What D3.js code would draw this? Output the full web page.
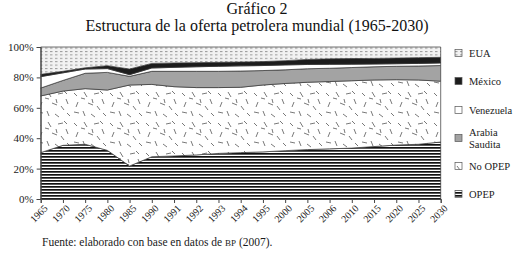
<!DOCTYPE html>
<html>
<head>
<meta charset="utf-8">
<script src="https://cdn.jsdelivr.net/npm/d3@7"></script>
<style>
  body { margin: 0; background: #fff; }
</style>
</head>
<body>
<div id="chart"></div>
<script>
// Years on the category axis
var years = ["1965", "1970", "1975", "1980", "1985", "1990", "1991", "1992", "1993", "1994",
             "1995", "2000", "2005", "2006", "2010", "2015", "2020", "2025", "2030"];

// Share of world supply (%), bottom of the stack first
var opep     = [30.5, 35.3, 36, 32, 21.7, 27.8, 28.3, 29, 30, 30.5, 31, 31.8, 32.5, 33, 33.5, 34.5, 35.5, 36, 37.5];
var noOpep   = [37.3, 35.7, 36.6, 39.7, 53.3, 47.6, 45.6, 44.3, 43.3, 43, 44, 44.2, 44.3, 44.3, 44.3, 43.8, 43, 42.3, 40];
var arabia   = [5.2, 7, 10.1, 11.6, 5.7, 8.6, 10.1, 10.7, 10.7, 10.7, 9.5, 9, 8.9, 8.7, 8.7, 8.7, 8.8, 9.2, 10.3];
var venezuela= [7.5, 5, 2.8, 2.5, 1.1, 2.2, 2.6, 3, 3.3, 3.4, 3.3, 3.2, 2.8, 2.6, 2.2, 1.8, 1.7, 1.7, 1.7];
var mexico   = [1.5, 1, 0.8, 1.9, 3.7, 3, 2.9, 2.7, 2.6, 2.5, 2.6, 2.8, 3.3, 3.6, 3.7, 3.7, 3.7, 3.8, 3.7];
var eua      = [18, 16, 13.7, 12.3, 14.5, 10.8, 10.5, 10.3, 10.1, 9.9, 9.6, 9, 8.2, 7.8, 7.6, 7.5, 7.3, 7, 6.8];

var yTicks = [0, 20, 40, 60, 80, 100];

var keys = ["OPEP", "No OPEP", "Arabia Saudita", "Venezuela", "México", "EUA"];
var series = {"OPEP": opep, "No OPEP": noOpep, "Arabia Saudita": arabia,
              "Venezuela": venezuela, "México": mexico, "EUA": eua};

var rows = years.map(function(y, i) {
  var r = {year: y};
  keys.forEach(function(k) { r[k] = series[k][i]; });
  return r;
});

var W = 515, H = 257;
var plot = {left: 40.7, right: 440.7, top: 47, bottom: 199};
var serif = "'Liberation Serif', 'DejaVu Serif', 'Times New Roman', serif";

var svg = d3.select("#chart").append("svg")
  .attr("width", W)
  .attr("height", H)
  .style("font-family", serif);

// ---- patterns ----
var defs = svg.append("defs");

var pLines = defs.append("pattern")
  .attr("id", "p-opep").attr("patternUnits", "userSpaceOnUse")
  .attr("width", 4).attr("height", 3);
pLines.append("rect").attr("width", 4).attr("height", 3).attr("fill", "#fff");
pLines.append("rect").attr("width", 4).attr("height", 1.7).attr("fill", "#111");

var pDash = defs.append("pattern")
  .attr("id", "p-noopep").attr("patternUnits", "userSpaceOnUse")
  .attr("width", 36).attr("height", 30);
pDash.append("rect").attr("width", 36).attr("height", 30).attr("fill", "#fff");
var segs = [[2,3,5,6],[12,2,15,7],[22,4,27,3],[30,9,32,14],[6,12,4,17],[16,13,21,15],
            [25,16,28,20],[2,22,7,23],[11,21,13,26],[19,24,23,27],[31,23,34,26],[28,1,31,4],
            [9,8,13,9],[20,9,21,13]];
segs.forEach(function(s) {
  pDash.append("line")
    .attr("x1", s[0]).attr("y1", s[1]).attr("x2", s[2]).attr("y2", s[3])
    .attr("stroke", "#555").attr("stroke-width", 0.8);
});

var pDots = defs.append("pattern")
  .attr("id", "p-eua").attr("patternUnits", "userSpaceOnUse")
  .attr("width", 5).attr("height", 3.4);
pDots.append("rect").attr("width", 5).attr("height", 3.4).attr("fill", "#f2f2f2");
pDots.append("rect").attr("width", 2.5).attr("height", 1).attr("fill", "#9a9a9a");

var fills = {
  "OPEP": "url(#p-opep)",
  "No OPEP": "url(#p-noopep)",
  "Arabia Saudita": "#a3a3a3",
  "Venezuela": "#ffffff",
  "México": "#1c1c1c",
  "EUA": "url(#p-eua)"
};

// ---- scales ----
var x = d3.scalePoint().domain(years).range([plot.left, plot.right]);
var y = d3.scaleLinear().domain([0, 100]).range([plot.bottom, plot.top]);

var stacked = d3.stack().keys(keys)(rows);

var area = d3.area()
  .x(function(d) { return x(d.data.year); })
  .y0(function(d) { return y(d[0]); })
  .y1(function(d) { return y(d[1]); });

svg.append("g").selectAll("path")
  .data(stacked)
  .enter().append("path")
    .attr("d", area)
    .attr("fill", function(d) { return fills[d.key]; })
    .attr("stroke", "#333")
    .attr("stroke-width", 0.7);

// ---- axes ----
var yAxis = svg.append("g")
  .attr("transform", "translate(" + plot.left + ",0)")
  .call(d3.axisLeft(y).tickValues(yTicks).tickSize(4).tickPadding(3)
    .tickFormat(function(d) { return d + "%"; }));
yAxis.attr("font-family", null);
yAxis.selectAll("text").style("font-size", "11px").style("font-family", serif).attr("fill", "#1a1a1a");
yAxis.selectAll("line, path").attr("stroke", "#444");

var xAxis = svg.append("g")
  .attr("transform", "translate(0," + plot.bottom + ")")
  .call(d3.axisBottom(x).tickSize(4).tickPadding(2));
xAxis.attr("font-family", null);
xAxis.selectAll("line, path").attr("stroke", "#444");
xAxis.selectAll("text")
  .style("font-size", "10px")
  .style("font-family", serif)
  .attr("fill", "#1a1a1a")
  .style("text-anchor", "end")
  .attr("dx", "-0.2em")
  .attr("dy", "0.6em")
  .attr("transform", "rotate(-45)");

// ---- titles ----
svg.append("text")
  .attr("x", 257).attr("y", 14)
  .attr("text-anchor", "middle")
  .style("font-size", "16px")
  .style("font-family", serif)
  .attr("fill", "#111")
  .text("Gráfico 2");

svg.append("text")
  .attr("x", 257).attr("y", 31)
  .attr("text-anchor", "middle")
  .style("font-size", "16px")
  .style("font-family", serif)
  .attr("fill", "#111")
  .text("Estructura de la oferta petrolera mundial (1965-2030)");

// ---- legend ----
var legendItems = [
  {key: "EUA", y: 53, lines: ["EUA"]},
  {key: "México", y: 81, lines: ["México"]},
  {key: "Venezuela", y: 110, lines: ["Venezuela"]},
  {key: "Arabia Saudita", y: 138, lines: ["Arabia", "Saudita"]},
  {key: "No OPEP", y: 166, lines: ["No OPEP"]},
  {key: "OPEP", y: 194, lines: ["OPEP"]}
];

var legend = svg.append("g");
legendItems.forEach(function(it) {
  legend.append("rect")
    .attr("x", 455).attr("y", it.y - 3.5)
    .attr("width", 7).attr("height", 7)
    .attr("fill", fills[it.key])
    .attr("stroke", "#555").attr("stroke-width", 0.7);
  it.lines.forEach(function(t, j) {
    legend.append("text")
      .attr("x", 469)
      .attr("y", it.y + 4 + (j - (it.lines.length - 1) / 2) * 12)
      .style("font-size", "10.5px")
      .style("font-family", serif)
      .attr("fill", "#1a1a1a")
      .text(t);
  });
});

// ---- source note ----
var note = svg.append("text")
  .attr("x", 42).attr("y", 246)
  .style("font-size", "11.5px")
  .style("font-family", serif)
  .attr("fill", "#1a1a1a");
note.append("tspan").text("Fuente: elaborado con base en datos de ");
note.append("tspan").style("font-size", "9px").text("BP");
note.append("tspan").text(" (2007).");
</script>
</body>
</html>
